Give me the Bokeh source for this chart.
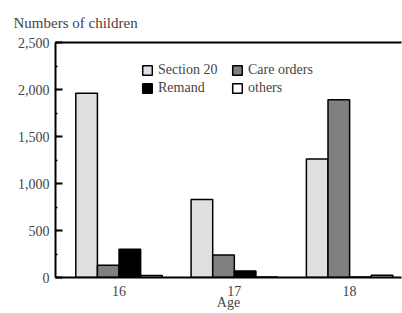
from bokeh.plotting import figure
from bokeh.models import (Range1d, FixedTicker, SingleIntervalTicker, NumeralTickFormatter,
                          LinearAxis, Legend, LegendItem, ColumnDataSource)
from bokeh.transform import dodge
from bokeh.embed import file_html
from bokeh.resources import INLINE

ages = [16, 17, 18]
section20 = [1960, 830, 1260]
care_orders = [130, 240, 1890]
remand = [300, 70, 5]
others = [20, 5, 25]

series_names = ["Section 20", "Care orders", "Remand", "others"]
series_colors = ["#e0e0e0", "#808080", "#000000", "#ffffff"]

FONT = "Liberation Serif"
src = ColumnDataSource(dict(age=ages, s20=section20, care=care_orders, remand=remand, others=others))

p = figure(width=402, height=313, output_backend="svg", toolbar_location=None,
           x_range=Range1d(15.449, 18.45), y_range=Range1d(0, 2500),
           min_border_left=55, min_border_right=1, min_border_bottom=36, min_border_top=42)
p.outline_line_color = None
p.grid.grid_line_color = None
p.background_fill_color = "white"

w = 0.1875
cols = ["s20", "care", "remand", "others"]
offs = [-1.5 * w, -0.5 * w, 0.5 * w, 1.5 * w]
rends = []
for c, o, col in zip(cols, offs, series_colors):
    r = p.vbar(x=dodge("age", o), top=c, width=w, bottom=0, source=src,
               fill_color=col, line_color="black", line_width=1.5)
    rends.append(r)

# axes
xa = p.xaxis[0]
xa.ticker = FixedTicker(ticks=ages)
xa.axis_line_width = 2
xa.major_tick_in = 6
xa.major_tick_out = 0
xa.minor_tick_line_color = None
xa.major_label_standoff = 8
xa.major_label_text_font = FONT
xa.major_label_text_font_size = "14px"
xa.axis_label = "Age"
xa.axis_label_text_font = FONT
xa.axis_label_text_font_style = "normal"
xa.axis_label_text_font_size = "14px"
xa.axis_label_standoff = -4

ya = p.yaxis[0]
ya.ticker = SingleIntervalTicker(interval=500, num_minor_ticks=2)
ya.formatter = NumeralTickFormatter(format="0,0")
ya.axis_line_width = 2
ya.major_tick_in = 7
ya.major_tick_out = 0
ya.minor_tick_in = 2
ya.minor_tick_out = 0
ya.major_tick_line_width = 2
ya.minor_tick_line_width = 1.5
ya.major_label_standoff = 6
ya.major_label_text_font = FONT
ya.major_label_text_font_size = "14px"

top_axis = LinearAxis(ticker=FixedTicker(ticks=[]), axis_line_width=2,
                      major_label_text_font_size="0px", major_tick_in=0, major_tick_out=0,
                      minor_tick_in=0, minor_tick_out=0)
p.add_layout(top_axis, "above")

p.title.text = "Numbers of children"
p.title.text_font = FONT
p.title.text_font_style = "normal"
p.title.text_font_size = "15px"
p.title.align = "left"
p.title.offset = -42
p.title.standoff = 23

legend = Legend(items=[LegendItem(label=n, renderers=[r]) for n, r in zip(series_names, rends)],
                ncols=2, orientation="horizontal", location=(86, 181),
                label_text_font=FONT, label_text_font_size="14px",
                glyph_width=12, glyph_height=12, label_standoff=5, label_height=15,
                label_width=71, spacing=2, padding=4, margin=0,
                border_line_color=None, background_fill_alpha=0)
p.add_layout(legend, "center")

open("out.html", "w").write(file_html(p, INLINE))
